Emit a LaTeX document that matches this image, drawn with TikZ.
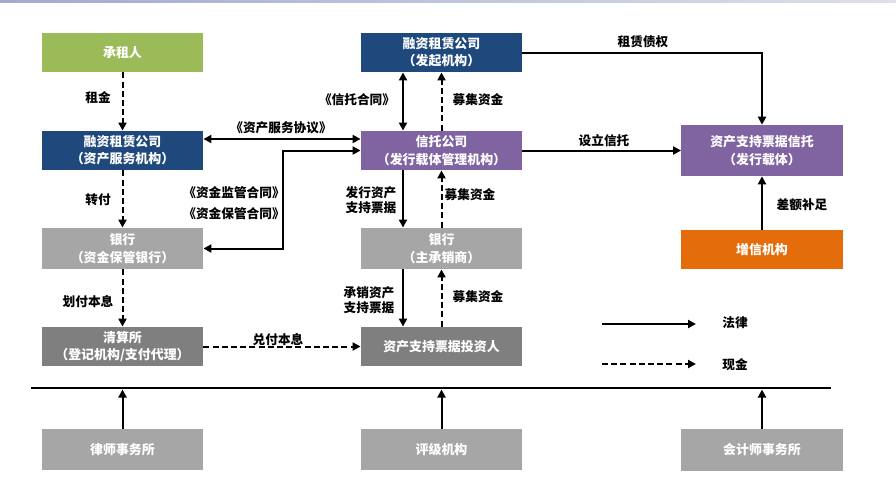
\documentclass[tikz,border=0pt]{standalone}
\usepackage{fontspec}
\setmainfont{Noto Sans CJK SC}
\usetikzlibrary{arrows.meta,calc}
\definecolor{cgreen}{HTML}{9BBB59}
\definecolor{cblue}{HTML}{1F497D}
\definecolor{cpurple}{HTML}{8064A2}
\definecolor{cgray}{HTML}{A6A6A6}
\definecolor{cdgray}{HTML}{7F7F7F}
\definecolor{corange}{HTML}{E46C0A}
\definecolor{ctopL}{HTML}{A3A9CF}
\definecolor{ctopR}{HTML}{DDE0EA}
\tikzset{
  box/.style={minimum width=121pt, minimum height=29.5pt, inner sep=0pt, text=white,
    font=\bfseries\fontsize{9.7}{13}\selectfont, align=center},
  tallbox/.style={box, minimum height=31pt},
  lbl/.style={font=\bfseries\fontsize{9.5}{11.5}\selectfont, text=black, inner sep=0pt, align=center},
  law/.style={line width=1.5pt, -{Triangle[length=6pt,width=6pt]}},
  cash/.style={law, dash pattern=on 4.5pt off 2.4pt},
  both/.style={line width=1.5pt, {Triangle[length=6pt,width=6pt]}-{Triangle[length=6pt,width=6pt]}},
}
\begin{document}
\begin{tikzpicture}[x=0.75pt,y=-0.75pt]
\useasboundingbox (0,0) rectangle (896,497);
\shade[left color=ctopL, right color=ctopR] (0,0) rectangle (896,2);

% left column
\node[box, fill=cgreen] (cz) at (122.5,52.5) {承租人};
\node[box, fill=cblue] (fz) at (122.5,150.5) {融资租赁公司\\（资产服务机构）};
\node[tallbox, fill=cgray] (yh) at (122.5,248.5) {银行\\（资金保管银行）};
\node[box, fill=cdgray] (qs) at (122.5,346.5) {清算所\\（登记机构/支付代理）};
\node[tallbox, fill=cgray] (ls) at (122.5,449.5) {律师事务所};

% middle column
\node[box, fill=cblue] (fq) at (441.5,52.5) {融资租赁公司\\（发起机构）};
\node[box, fill=cpurple] (xt) at (441.5,150.5) {信托公司\\（发行载体管理机构）};
\node[tallbox, fill=cgray] (zc) at (441.5,248.5) {银行\\（主承销商）};
\node[box, fill=cdgray] (tz) at (441.5,346.5) {资产支持票据投资人};
\node[tallbox, fill=cgray] (pj) at (441.5,449.5) {评级机构};

% right column
\node[box, minimum height=38.25pt, fill=cpurple] (pt) at (762,150.5) {资产支持票据信托\\（发行载体）};
\node[box, fill=corange] (zx) at (762,249.5) {增信机构};
\node[tallbox, fill=cgray] (kj) at (762,450) {会计师事务所};

% helper coordinates
\coordinate (mL) at (403,0);
\coordinate (r1) at (0,139);
\coordinate (hl) at (0,389.5);
\coordinate (tr) at (762,52.5);

% left column cash flows
\draw[cash] (cz.south) -- (fz.north);
\draw[cash] (fz.south) -- (yh.north);
\draw[cash] (yh.south) -- (qs.north);
\draw[cash] (qs.east) -- (tz.west);
\node[lbl] (l1) at (98,98) {租金};
\node[lbl] (l2) at (98,200) {转付};
\node[lbl] (l3) at (88,302) {划付本息};
\node[lbl] (l4) at (278,340) {兑付本息};

% contracts
\draw[both] (fz.east |- r1) -- (xt.west |- r1);
\node[lbl] (l5) at (281,128) {《资产服务协议》};
\draw[both] (xt.west) -- ++(-78,0) |- (yh.east);
\node[lbl] (l6) at (234,193) {《资金监管合同》};
\node[lbl] (l7) at (234,214) {《资金保管合同》};

% middle column
\draw[both] (fq.south -| mL) -- (xt.north -| mL);
\node[lbl] (l8) at (357,100) {《信托合同》};
\draw[cash] (xt.north) -- (fq.south);
\node[lbl] (l9) at (478,100) {募集资金};
\draw[law] (xt.south -| mL) -- (zc.north -| mL);
\node[lbl] (l10) at (371,200) {发行资产\\支持票据};
\draw[cash] (zc.north) -- (xt.south);
\node[lbl] (l11) at (470,195) {募集资金};
\draw[law] (zc.south -| mL) -- (tz.north -| mL);
\node[lbl] (l12) at (369,300) {承销资产\\支持票据};
\draw[cash] (tz.north) -- (zc.south);
\node[lbl] (l13) at (478,297) {募集资金};

% right side
\draw[law] (fq.east) -- (tr) -- (pt.north);
\node[lbl] (l14) at (643,42) {租赁债权};
\draw[law] (xt.east) -- (pt.west |- xt.east);
\node[lbl] (l15) at (604,141) {设立信托};
\draw[law] (zx.north) -- (pt.south);
\node[lbl] (l16) at (802,205) {差额补足};

% legend
\coordinate (g1a) at (602,324);
\coordinate (g1b) at (696,324);
\coordinate (g2a) at (602,364);
\coordinate (g2b) at (696,364);
\draw[law] (g1a) -- (g1b);
\draw[cash] (g2a) -- (g2b);
\node[lbl] (l17) at (735,323) {法律};
\node[lbl] (l18) at (735,365) {现金};

% separator and bottom arrows
\coordinate (hlL) at (31,388);
\coordinate (hlR) at (831,388);
\draw[line width=0.9pt] (hlL) -- (hlR);
\draw[law] (ls.north) -- (ls.north |- hl);
\draw[law] (pj.north) -- (pj.north |- hl);
\draw[law] (kj.north) -- (kj.north |- hl);
\end{tikzpicture}
\end{document}
